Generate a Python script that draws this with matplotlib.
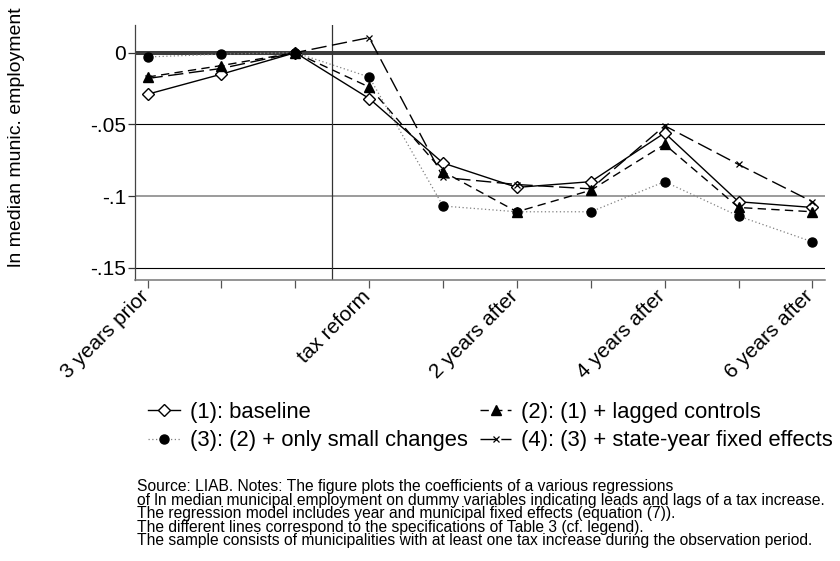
import matplotlib
matplotlib.use('Agg')
import matplotlib.pyplot as plt
from matplotlib.lines import Line2D
from matplotlib.transforms import ScaledTranslation

plt.rcParams['font.family'] = ['Liberation Sans', 'DejaVu Sans']

# ---- data ----
periods = [-3, -2, -1, 0, 1, 2, 3, 4, 5, 6]
xtick_labels = ['3 years prior', '', '', 'tax reform', '', '2 years after', '',
                '4 years after', '', '6 years after']
ytick_vals = [0, -0.05, -0.1, -0.15]
ytick_labels = ['0', '-.05', '-.1', '-.15']

baseline = [-0.029, -0.015, 0.0, -0.032, -0.077, -0.094, -0.090, -0.056, -0.104, -0.108]
lagged = [-0.017, -0.009, 0.0, -0.024, -0.083, -0.111, -0.096, -0.064, -0.108, -0.111]
small_changes = [-0.003, -0.001, 0.0, -0.017, -0.107, -0.111, -0.111, -0.090, -0.114, -0.132]
state_year = [-0.018, -0.011, 0.0, 0.0105, -0.087, -0.092, -0.095, -0.051, -0.078, -0.104]

series_labels = ['(1): baseline', '(2): (1) + lagged controls',
                 '(3): (2) + only small changes', '(4): (3) + state-year fixed effects']

notes = [
    'Source: LIAB. Notes: The figure plots the coefficients of a various regressions',
    'of ln median municipal employment on dummy variables indicating leads and lags of a tax increase.',
    'The regression model includes year and municipal fixed effects (equation (7)).',
    'The different lines correspond to the specifications of Table 3 (cf. legend).',
    'The sample consists of municipalities with at least one tax increase during the observation period.',
]

W, H = 840, 561
fig = plt.figure(figsize=(W / 100, H / 100), dpi=100)
ax = fig.add_axes([135 / W, 1 - 280 / H, (825 - 135) / W, (280 - 25) / H])

# reference lines
ax.axhline(0, color='#3c3c3c', lw=2.9, zorder=1)
ax.axhline(-0.05, color='black', lw=0.8, zorder=1)
ax.axhline(-0.1, color='#808080', lw=1.1, zorder=1)
ax.axhline(-0.15, color='black', lw=0.8, zorder=1)
ax.axvline(-0.5, color='#333333', lw=0.9, zorder=1)

styles = [
    dict(color='black', lw=1.0, ls='-', marker='D', ms=6, mfc='white', mec='black', mew=1.0),
    dict(color='black', lw=1.0, ls=(0, (6, 3.8)), marker='^', ms=6.5, mfc='black', mec='black'),
    dict(color='#808080', lw=0.9, ls=(0, (1, 2)), marker='o', ms=6.5, mfc='black', mec='black'),
    dict(color='black', lw=1.0, ls=(0, (11, 4)), marker='x', ms=4.5, mec='black', mew=0.9),
]
data = [baseline, lagged, small_changes, state_year]
handles = []
for vals, st, lab in zip(data, styles, series_labels):
    ax.plot(periods, vals, zorder=3, **st)
    handles.append(Line2D([], [], **st, label=lab))

ax.set_xlim(-3.17, 6.17)
ax.set_ylim(-0.1586, 0.0193)

ax.set_yticks(ytick_vals)
ax.set_yticklabels(ytick_labels)
ax.set_xticks(periods)
ax.set_xticklabels(xtick_labels, rotation=45, ha='right', va='center',
                   rotation_mode='anchor')
ax.tick_params(axis='y', length=5, width=0.9, pad=1.5, labelsize=15, colors='#333333',
               labelcolor='black')
ax.tick_params(axis='x', length=5.5, width=0.9, pad=4, labelsize=15, colors='#555555',
               labelcolor='black')
off = ScaledTranslation(-2 / 100, 0, fig.dpi_scale_trans)
for lbl in ax.get_xticklabels():
    lbl.set_transform(lbl.get_transform() + off)

for s in ['top', 'right']:
    ax.spines[s].set_visible(False)
ax.spines['left'].set_color('#444444')
ax.spines['left'].set_linewidth(0.9)
ax.spines['bottom'].set_color('#777777')
ax.spines['bottom'].set_linewidth(1.1)

fig.text(17 / W, 1 - 137 / H, 'ln median munic. employment', rotation=90,
         ha='center', va='center', fontsize=14)

leg = fig.legend(handles=[handles[0], handles[2], handles[1], handles[3]], ncol=2,
                 loc='upper left', bbox_to_anchor=(148 / W, 1 - 402 / H),
                 frameon=False, fontsize=15.8, handlelength=1.45, handletextpad=0.45,
                 columnspacing=0.55, labelspacing=0.33, borderpad=0, borderaxespad=0,
                 numpoints=1)

# notes: size chosen so the widest line spans about the same width as in the reference
fig.canvas.draw()
renderer = fig.canvas.get_renderer()
widths = []
for line in notes:
    probe = fig.text(0, 0, line, fontsize=10)
    widths.append(probe.get_window_extent(renderer).width)
    probe.remove()
note_size = 10 * 690 / max(widths)

for i, line in enumerate(notes):
    fig.text(137 / W, 1 - (487 + 13.4 * i) / H, line, ha='left', va='center',
             fontsize=note_size)

fig.savefig('out.png', dpi=100)
